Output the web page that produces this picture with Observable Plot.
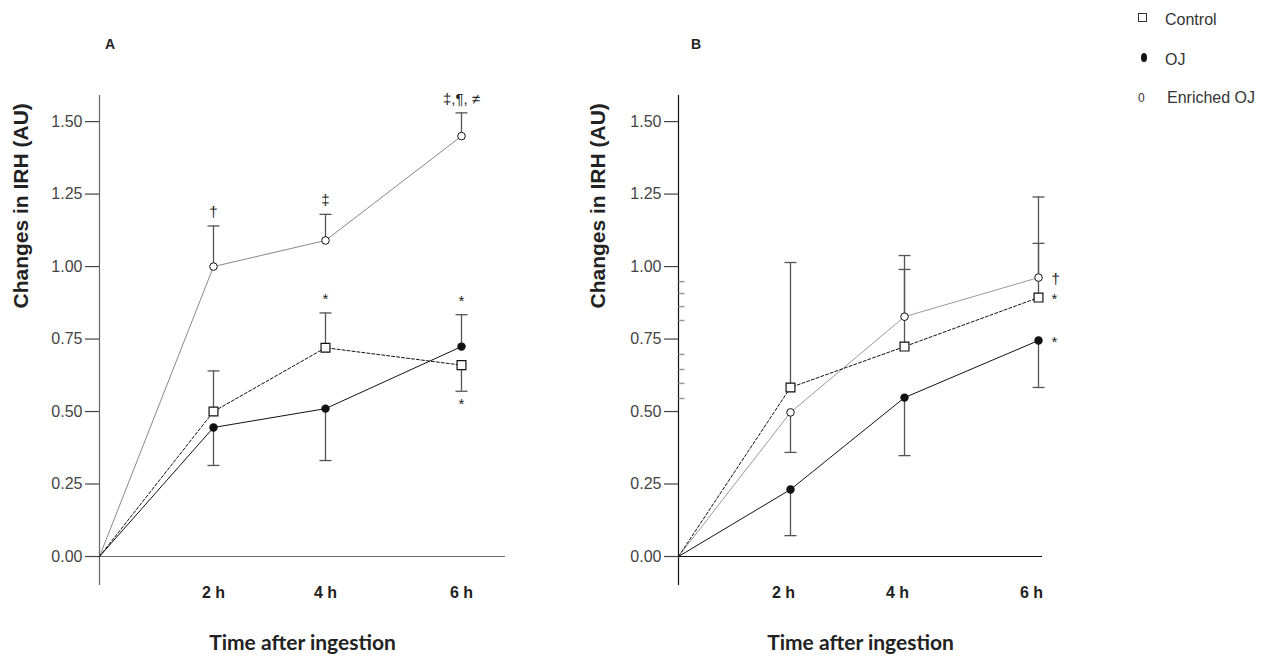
<!DOCTYPE html>
<html><head><meta charset="utf-8">
<script src="https://cdn.jsdelivr.net/npm/d3@7"></script>
<script src="https://cdn.jsdelivr.net/npm/@observablehq/plot@0.6"></script>
<style>
body{margin:0;background:#fff;}
#wrap{position:relative;width:1267px;height:663px;font-family:"Liberation Sans",Arial,sans-serif;overflow:hidden;background:#fff;}
.panel{position:absolute;top:0;}
.plab{position:absolute;font-weight:bold;font-size:14px;color:#222;line-height:1;}
.leg{position:absolute;font-size:16px;color:#333;line-height:1;}
</style></head><body><div id="wrap"></div>
<script>
// ---- shared ----
const hours = [0, 2, 4, 6];
const tickLabels = ["2 h", "4 h", "6 h"];
const yTicks = [0, 0.25, 0.5, 0.75, 1.0, 1.25, 1.5];
const seriesNames = ["Control", "OJ", "Enriched OJ"];
const panelNames = ["A", "B"];
const yLabel = "Changes in IRH (AU)";
const xLabel = "Time after ingestion";

// ---- Panel A (means and error-bar ends) ----
const aControl = [0, 0.50, 0.72, 0.66];
const aControlBar = [null, 0.64, 0.84, 0.57];
const aOJ = [0, 0.445, 0.51, 0.724];
const aOJBar = [null, 0.314, 0.331, 0.834];
const aEnriched = [0, 1.00, 1.09, 1.45];
const aEnrichedBar = [null, 1.14, 1.18, 1.53];
const aNotes = [
  {series: "Enriched OJ", i: 1, text: "\u2020", place: "above"},
  {series: "Enriched OJ", i: 2, text: "\u2021", place: "above"},
  {series: "Enriched OJ", i: 3, text: "\u2021,\u00b6, \u2260", place: "above"},
  {series: "Control", i: 2, text: "*", place: "above"},
  {series: "OJ", i: 3, text: "*", place: "above"},
  {series: "Control", i: 3, text: "*", place: "below"}
];

// ---- Panel B ----
const bControl = [0, 0.583, 0.724, 0.893];
const bControlBar = [null, 1.014, 0.99, 1.08];
const bOJ = [0, 0.231, 0.548, 0.745];
const bOJBar = [null, 0.072, 0.348, 0.583];
const bEnriched = [0, 0.497, 0.827, 0.962];
const bEnrichedBar = [null, 0.359, 1.038, 1.24];
const bNotes = [
  {series: "Enriched OJ", i: 3, text: "\u2020", place: "right"},
  {series: "Control", i: 3, text: "*", place: "right"},
  {series: "OJ", i: 3, text: "*", place: "right"}
];
const bMinorTicks = [0.948, 0.907, 0.862, 0.814, 0.697, 0.645, 0.597, 0.545];

// ---- helpers ----
const FONT = "Liberation Sans, Arial, sans-serif";
const capSymbol = {draw(ctx) { ctx.moveTo(-6, 0); ctx.lineTo(6, 0); }};
const minorSymbol = {draw(ctx) { ctx.moveTo(0, 0); ctx.lineTo(6, 0); }};
function rows(vals, bars, name) {
  return hours.map((t, i) => ({t, v: vals[i], end: bars[i], series: name, i}));
}

function makePanel(cfg) {
  const ctrl = rows(cfg.control, cfg.controlBar, seriesNames[0]);
  const oj = rows(cfg.oj, cfg.ojBar, seriesNames[1]);
  const enr = rows(cfg.enr, cfg.enrBar, seriesNames[2]);
  const all = {[seriesNames[0]]: ctrl, [seriesNames[1]]: oj, [seriesNames[2]]: enr};
  const bars = [...ctrl, ...oj, ...enr].filter(d => d.end != null);
  const notes = cfg.notes.map(n => ({...n, t: hours[n.i], v: all[n.series][n.i].v, end: all[n.series][n.i].end}));
  const above = notes.filter(n => n.place === "above");
  const below = notes.filter(n => n.place === "below");
  const right = notes.filter(n => n.place === "right");
  const pts = d => d.filter(p => p.t > 0);
  const marks = [
    Plot.ruleX([0], {stroke: cfg.axisColor, strokeWidth: 1.2}),
    Plot.ruleY([0], {stroke: cfg.axisColor, strokeWidth: 1.2}),
    Plot.axisY({ticks: yTicks, tickSize: 14, tickPadding: 3, tickFormat: d3.format(".2f"), fontSize: 16, fontFamily: FONT, color: "#444", strokeWidth: 1.2, label: null}),
    Plot.text([yLabel], {frameAnchor: "left", dx: cfg.yLabelDx, dy: -32, rotate: -90, fontSize: 21, fontWeight: "bold", fontFamily: FONT, fill: "#222"}),
    Plot.text(hours.slice(1), {x: d => d, text: (d, i) => tickLabels[i], frameAnchor: "bottom", dy: 12, dx: cfg.tickDx, fontSize: 16, fontWeight: "bold", fontFamily: FONT, fill: "#222"}),
    Plot.text([xLabel], {frameAnchor: "bottom", dy: 64, fontSize: 21, fontWeight: "bold", fontFamily: "Lato, Open Sans, sans-serif", fill: "#222"}),
    Plot.line(enr, {x: "t", y: "v", stroke: cfg.enrColor, strokeWidth: 1}),
    Plot.line(ctrl, {x: "t", y: "v", stroke: "#111", strokeWidth: 1, strokeDasharray: "3,2"}),
    Plot.line(oj, {x: "t", y: "v", stroke: "#111", strokeWidth: 1}),
    Plot.ruleX(bars, {x: "t", y1: "v", y2: "end", stroke: "#555", strokeWidth: 1.3}),
    Plot.dot(bars, {x: "t", y: "end", symbol: capSymbol, stroke: "#555", strokeWidth: 1.3, fill: "none"}),
    Plot.dot(pts(enr), {x: "t", y: "v", symbol: "circle", r: 3.8, fill: "white", stroke: "#111", strokeWidth: 1}),
    Plot.dot(pts(ctrl), {x: "t", y: "v", symbol: "square", r: 5, fill: "white", stroke: "#111", strokeWidth: 1.2}),
    Plot.dot(pts(oj), {x: "t", y: "v", symbol: "circle", r: 4.2, fill: "#111", stroke: "none"}),
    Plot.text(above, {x: "t", y: "end", text: "text", lineAnchor: "bottom", dy: -9, fontSize: 15, fontFamily: FONT, fill: "#222"}),
    Plot.text(below, {x: "t", y: "end", text: "text", lineAnchor: "top", dy: 7, fontSize: 15, fontFamily: FONT, fill: "#222"}),
    Plot.text(right, {x: "t", y: "v", text: "text", textAnchor: "start", dx: 13, dy: 2, fontSize: 15, fontFamily: FONT, fill: "#222"})
  ];
  if (cfg.minor) marks.push(Plot.dot(cfg.minor, {frameAnchor: "left", y: d => d, symbol: minorSymbol, stroke: "#999", fill: "none"}));
  return Plot.plot({
    width: cfg.width, height: 663,
    marginTop: 95, marginBottom: 78, marginLeft: cfg.marginLeft, marginRight: cfg.marginRight,
    x: {type: "linear", domain: hours, range: cfg.xRange, axis: null},
    y: {domain: [-0.1, 1.59]},
    style: {background: "transparent", overflow: "visible", fontFamily: FONT},
    marks
  });
}

const wrap = document.getElementById("wrap");
const pA = makePanel({control: aControl, controlBar: aControlBar, oj: aOJ, ojBar: aOJBar, enr: aEnriched, enrBar: aEnrichedBar,
  notes: aNotes, width: 580, marginLeft: 99, marginRight: 75, xRange: [99, 213, 325, 461],
  axisColor: "#666", enrColor: "#888", yLabelDx: -78, tickDx: 0});
pA.classList.add("panel"); pA.style.left = "0px";
wrap.appendChild(pA);
const pB = makePanel({control: bControl, controlBar: bControlBar, oj: bOJ, ojBar: bOJBar, enr: bEnriched, enrBar: bEnrichedBar,
  notes: bNotes, minor: bMinorTicks, width: 687, marginLeft: 98, marginRight: 225, xRange: [98, 210, 324, 458],
  axisColor: "#111", enrColor: "#999", yLabelDx: -80, tickDx: -7});
pB.classList.add("panel"); pB.style.left = "580px";
wrap.appendChild(pB);

// panel letters
[[panelNames[0], 105, 37], [panelNames[1], 691, 37]].forEach(([t, x, y]) => {
  const d = document.createElement("div"); d.className = "plab"; d.textContent = t;
  d.style.left = x + "px"; d.style.top = y + "px"; wrap.appendChild(d);
});

// legend
const legendY = [12, 52, 90];
const legendMarks = [
  `<div style="width:7px;height:7px;border:1.3px solid #333;"></div>`,
  `<div style="width:6px;height:9px;border-radius:50%;background:#111;"></div>`,
  `<div style="font-size:12px;color:#333;">0</div>`
];
const legendMarkX = [1138, 1141, 1138];
seriesNames.forEach((name, i) => {
  const m = document.createElement("div"); m.className = "leg"; m.innerHTML = legendMarks[i];
  m.style.left = legendMarkX[i] + "px"; m.style.top = (legendY[i] + (i === 2 ? 2 : 1)) + "px"; wrap.appendChild(m);
  const t = document.createElement("div"); t.className = "leg"; t.textContent = name;
  t.style.left = (i === 2 ? 1167 : 1165) + "px"; t.style.top = legendY[i] + "px"; wrap.appendChild(t);
});
</script></body></html>
